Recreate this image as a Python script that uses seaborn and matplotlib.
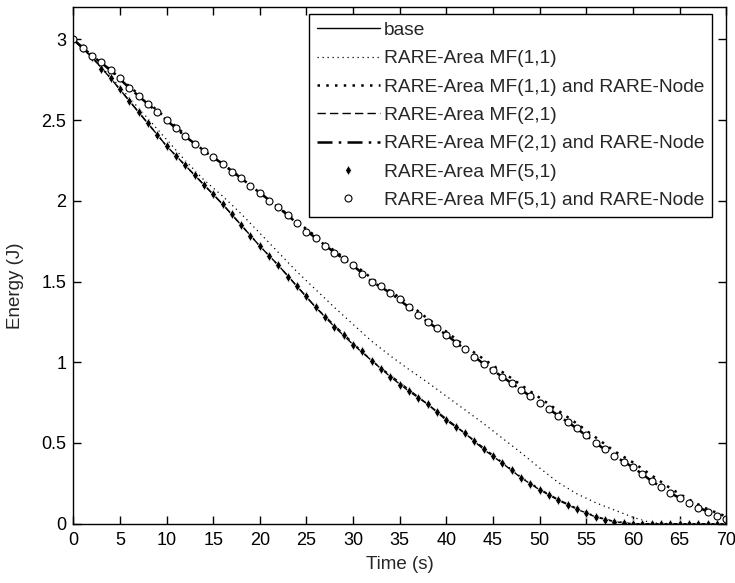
import numpy as np
import matplotlib
matplotlib.use("Agg")
import matplotlib.pyplot as plt
import seaborn as sns
from matplotlib.ticker import FormatStrFormatter, MultipleLocator

# time axis (s)
t1 = np.arange(0, 71, 1)   # marker series, one point per second
t2 = np.arange(0, 71, 2)   # line series

# fast group
base = [3.00, 2.89, 2.76, 2.62, 2.48, 2.34, 2.22, 2.10, 1.98, 1.85, 1.72, 1.60,
        1.47, 1.34, 1.22, 1.11, 1.01, 0.91, 0.82, 0.74, 0.64, 0.56, 0.46, 0.375,
        0.285, 0.21, 0.145, 0.09, 0.042, 0.012, 0.0, 0.0, 0.0, 0.0, 0.0, 0.0]
mf21 = [3.00, 2.89, 2.76, 2.62, 2.48, 2.34, 2.22, 2.10, 1.98, 1.85, 1.72, 1.60,
        1.47, 1.34, 1.23, 1.12, 1.01, 0.92, 0.83, 0.74, 0.65, 0.56, 0.47, 0.38,
        0.29, 0.215, 0.15, 0.095, 0.045, 0.014, 0.0, 0.0, 0.0, 0.0, 0.0, 0.0]
mf11 = [3.00, 2.89, 2.77, 2.64, 2.51, 2.38, 2.25, 2.13, 2.03, 1.92, 1.80, 1.68,
        1.56, 1.45, 1.34, 1.235, 1.13, 1.04, 0.955, 0.875, 0.79, 0.705, 0.62, 0.53,
        0.44, 0.345, 0.255, 0.185, 0.13, 0.085, 0.04, 0.005, 0.0, 0.0, 0.0, 0.0]
mf51 = [3.00, 2.95, 2.89, 2.82, 2.76, 2.69, 2.62, 2.55, 2.48, 2.41,
        2.34, 2.28, 2.22, 2.16, 2.10, 2.04, 1.98, 1.92, 1.85, 1.78,
        1.72, 1.66, 1.60, 1.53, 1.47, 1.41, 1.34, 1.28, 1.22, 1.17,
        1.11, 1.07, 1.01, 0.96, 0.91, 0.86, 0.82, 0.78, 0.74, 0.69,
        0.64, 0.60, 0.56, 0.51, 0.46, 0.42, 0.375, 0.33, 0.285, 0.245,
        0.21, 0.175, 0.145, 0.115, 0.09, 0.065, 0.042, 0.025, 0.012, 0.005,
        0.0, 0.0, 0.0, 0.0, 0.0, 0.0, 0.0, 0.0, 0.0, 0.0, 0.0]

# slow group (with RARE-Node)
mf11_node = [3.00, 2.90, 2.81, 2.71, 2.61, 2.51, 2.41, 2.31, 2.23, 2.14, 2.05, 1.96,
             1.87, 1.78, 1.69, 1.61, 1.52, 1.44, 1.36, 1.27, 1.19, 1.10, 1.02, 0.94,
             0.86, 0.78, 0.70, 0.62, 0.535, 0.45, 0.38, 0.30, 0.22, 0.15, 0.09, 0.045]
mf21_node = [3.00, 2.90, 2.81, 2.70, 2.60, 2.50, 2.40, 2.31, 2.23, 2.14, 2.05, 1.96,
             1.86, 1.77, 1.68, 1.60, 1.50, 1.43, 1.34, 1.25, 1.17, 1.08, 0.99, 0.91,
             0.83, 0.75, 0.67, 0.59, 0.50, 0.42, 0.35, 0.265, 0.19, 0.13, 0.075, 0.03]
mf51_node = [3.00, 2.95, 2.90, 2.86, 2.81, 2.76, 2.70, 2.65, 2.60, 2.55,
             2.50, 2.45, 2.40, 2.35, 2.31, 2.27, 2.23, 2.18, 2.14, 2.09,
             2.05, 2.00, 1.96, 1.91, 1.86, 1.81, 1.77, 1.72, 1.68, 1.64,
             1.60, 1.55, 1.50, 1.47, 1.43, 1.39, 1.34, 1.29, 1.25, 1.21,
             1.17, 1.12, 1.08, 1.03, 0.99, 0.95, 0.91, 0.87, 0.83, 0.79,
             0.75, 0.71, 0.67, 0.63, 0.59, 0.55, 0.50, 0.46, 0.42, 0.385,
             0.35, 0.31, 0.265, 0.225, 0.19, 0.16, 0.13, 0.10, 0.075, 0.05, 0.03]

labels = ["base", "RARE-Area MF(1,1)", "RARE-Area MF(1,1) and RARE-Node",
          "RARE-Area MF(2,1)", "RARE-Area MF(2,1) and RARE-Node",
          "RARE-Area MF(5,1)", "RARE-Area MF(5,1) and RARE-Node"]

sns.set_style("ticks")
plt.rcParams["font.family"] = ["Liberation Sans", "DejaVu Sans"]
plt.rcParams["font.size"] = 13.5

fig, ax = plt.subplots(figsize=(7.35, 5.83), dpi=100)
fig.subplots_adjust(left=0.0997, right=0.988, bottom=0.1017, top=0.9877)

sns.lineplot(x=t2, y=base, ax=ax, color="k", lw=1.0, label=labels[0])
sns.lineplot(x=t2, y=mf11, ax=ax, color="k", lw=0.9, ls=(0, (1, 3)), label=labels[1])
sns.lineplot(x=t2, y=mf11_node, ax=ax, color="k", lw=1.8, ls=(0, (1, 2.5)), label=labels[2])
sns.lineplot(x=t2, y=mf21, ax=ax, color="k", lw=1.0, ls=(0, (6, 3)), label=labels[3])
sns.lineplot(x=t2, y=mf21_node, ax=ax, color="k", lw=1.8, ls=(0, (6, 2.5, 1, 2.5)), label=labels[4])
sns.lineplot(x=t1, y=mf51, ax=ax, color="k", ls="none", marker="d", markersize=5,
             markeredgewidth=0.5, label=labels[5])
sns.lineplot(x=t1, y=mf51_node, ax=ax, color="k", ls="none", marker="o", markersize=5,
             markerfacecolor="white", markeredgecolor="k", markeredgewidth=0.8,
             label=labels[6])

ax.set_xlim(0, 70)
ax.set_ylim(0, 3.2)
ax.xaxis.set_major_locator(MultipleLocator(5))
ax.yaxis.set_major_locator(MultipleLocator(0.5))
ax.yaxis.set_major_formatter(FormatStrFormatter("%g"))
ax.tick_params(direction="in", top=True, right=True, length=6, width=1,
               labelsize=13, colors="k")
ax.tick_params(axis="x", pad=6)
ax.tick_params(axis="y", pad=5)
for s in ax.spines.values():
    s.set_visible(True)
    s.set_color("k")
    s.set_linewidth(1)
ax.set_xlabel("Time (s)", fontsize=13.5, labelpad=5)
ax.set_ylabel("Energy (J)", fontsize=13.5)
ax.yaxis.set_label_coords(-0.075, 0.46)

leg = ax.legend(loc="upper right", bbox_to_anchor=(0.978, 0.987), borderaxespad=0,
                fontsize=13.8, frameon=True, fancybox=False, edgecolor="k",
                framealpha=1, labelspacing=0.57, handlelength=3.3,
                handletextpad=0.2, borderpad=0.4)
leg.get_frame().set_linewidth(1)

fig.savefig("out.png", dpi=100)
